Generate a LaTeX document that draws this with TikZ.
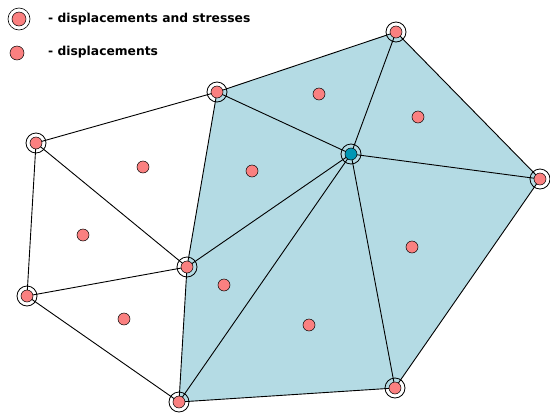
\documentclass[tikz,border=0pt]{standalone}
\usepackage{fontspec}
\setmainfont{DejaVu Sans}
\begin{document}
\begin{tikzpicture}[x=1pt,y=-1pt,
  edge/.style={draw=black,line width=0.9pt},
  ddot/.style={circle,draw=black,line width=0.5pt,fill=dotred,minimum size=12pt,inner sep=0pt},
  bdot/.style={circle,draw=black,line width=0.5pt,fill=dotblue,minimum size=12pt,inner sep=0pt},
  ring/.style={circle,draw=black,line width=0.8pt,minimum size=20pt,inner sep=0pt},
  lab/.style={anchor=west,font=\bfseries\fontsize{12.3}{14}\selectfont,inner sep=0pt}]
\definecolor{dotred}{RGB}{250,128,128}
\definecolor{dotblue}{RGB}{0,150,180}
\definecolor{fillblue}{RGB}{180,219,228}
\useasboundingbox (0,0) rectangle (550,413);
% vertices
\coordinate (A) at (36,143);
\coordinate (B) at (217,92);
\coordinate (C) at (396,32);
\coordinate (D) at (351,154);
\coordinate (E) at (540,179);
\coordinate (F) at (187,267);
\coordinate (G) at (27,296);
\coordinate (H) at (179,402);
\coordinate (I) at (395,388);
\fill[fillblue] (B) -- (C) -- (E) -- (I) -- (H) -- (F) -- cycle;
\foreach \p/\q in {A/B,A/F,A/G,G/F,G/H,B/F,B/D,B/C,C/D,C/E,D/E,D/F,D/H,D/I,E/I,F/H,H/I}
  \draw[edge] (\p) -- (\q);
% nodal dots
\foreach \p in {A,B,C,E,F,G,H,I}{
  \node[ring] at (\p) {};
  \node[ddot] at (\p) {};
}
\node[ring] (dr) at (D) {};
\node[bdot] (db) at (D) {};
% element centre dots
\node[ddot] (t1) at (143,167) {};
\node[ddot] (t2) at (83,235) {};
\node[ddot] (t3) at (124,319) {};
\node[ddot] (t4) at (252,171) {};
\node[ddot] (t5) at (319,94) {};
\node[ddot] (t6) at (418,117) {};
\node[ddot] (t7) at (412,247) {};
\node[ddot] (t8) at (309,325) {};
\node[ddot] (t9) at (224,285) {};
% legend
\node[ring,line width=0.6pt,minimum size=22pt] (lr) at (19,19) {};
\node[ddot,minimum size=14pt] (ld1) at (19,19) {};
\node[ddot,minimum size=14pt] (ld2) at (17,53) {};
\node[lab] (l1) at (48,19) {- displacements and stresses};
\node[lab] (l2) at (48,52) {- displacements};
\end{tikzpicture}
\end{document}
